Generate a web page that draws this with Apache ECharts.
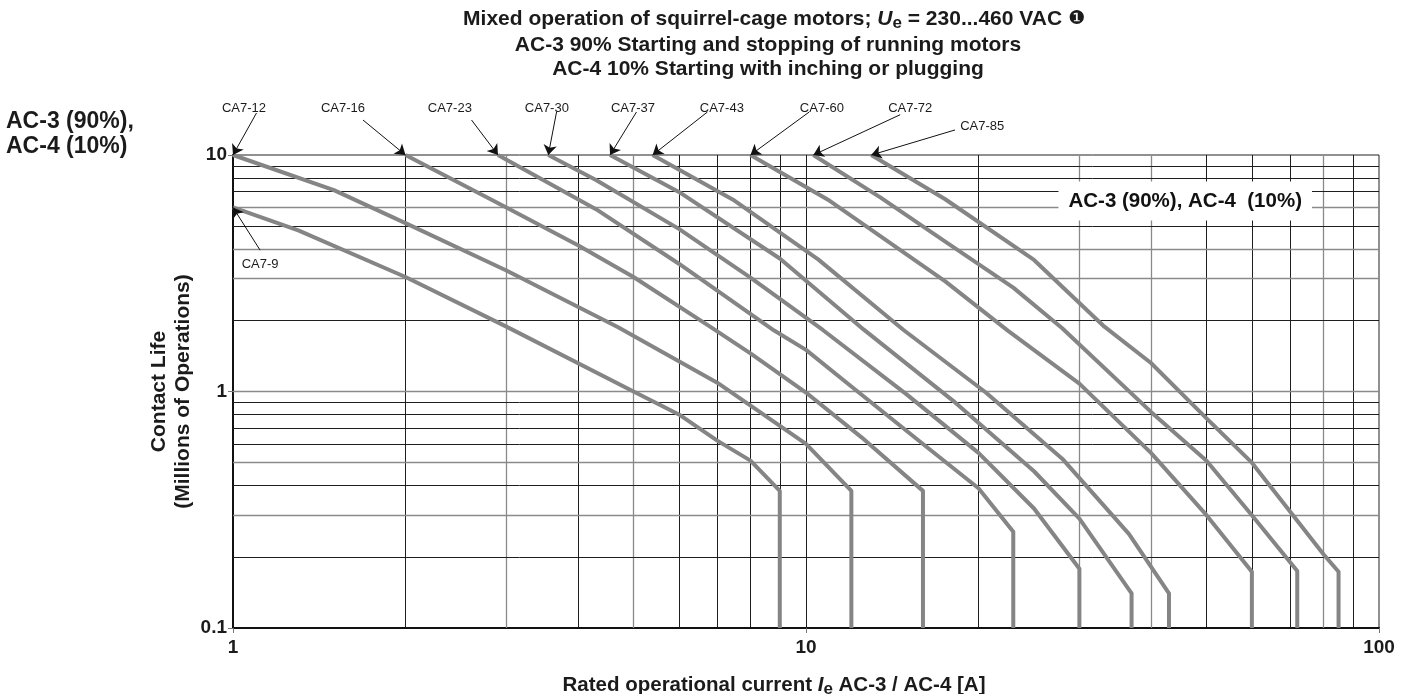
<!DOCTYPE html>
<html>
<head>
<meta charset="utf-8">
<script src="https://cdn.jsdelivr.net/npm/echarts@6/dist/echarts.min.js"></script>
<style>
  html, body { margin: 0; padding: 0; background: #fff; }
  #chart { width: 1412px; height: 694px; }
</style>
</head>
<body>
<div id="chart"></div>
<script>
// Contact life curves: [rated current A, millions of operations]
const ratings = ['CA7-9', 'CA7-12', 'CA7-16', 'CA7-23', 'CA7-30', 'CA7-37', 'CA7-43', 'CA7-60', 'CA7-72', 'CA7-85'];
const lifeCA7_9  = [[1, 6], [1.3, 4.8], [2, 3.05], [3, 1.88], [5, 1.0], [6, 0.8], [7, 0.62], [8, 0.51], [9, 0.38], [9, 0.1]];
const lifeCA7_12 = [[1, 10], [1.5, 7.1], [2, 5.15], [3, 3.25], [4.7, 1.87], [7, 1.09], [10, 0.6], [12, 0.38], [12, 0.1]];
const lifeCA7_16 = [[2, 10], [3, 6.0], [4, 4.15], [5, 3.05], [6.8, 1.88], [8, 1.45], [10, 0.99], [12.5, 0.64], [16, 0.38], [16, 0.1]];
const lifeCA7_23 = [[2.9, 10], [4.3, 5.9], [6, 3.47], [8.8, 1.81], [10, 1.5], [12, 1.05], [16, 0.6], [20, 0.39], [23, 0.255], [23, 0.1]];
const lifeCA7_30 = [[3.55, 10], [4.3, 7.84], [6, 4.87], [8, 3.03], [10.7, 1.82], [15, 0.97], [20, 0.55], [25, 0.32], [30, 0.178], [30, 0.1]];
const lifeCA7_37 = [[4.55, 10], [6, 6.98], [9, 3.65], [12.6, 1.83], [18, 0.92], [25, 0.46], [30, 0.29], [37, 0.14], [37, 0.1]];
const lifeCA7_43 = [[5.4, 10], [7.5, 6.42], [10.5, 3.62], [14.8, 1.82], [20.6, 0.99], [28, 0.52], [36.6, 0.25], [43, 0.14], [43, 0.1]];
const lifeCA7_60 = [[8, 10], [11, 6.4], [17.5, 2.92], [22.5, 1.81], [30, 1.08], [40, 0.55], [50, 0.3], [60, 0.173], [60, 0.1]];
const lifeCA7_72 = [[10.3, 10], [13.5, 6.6], [17.5, 4.3], [23, 2.75], [28, 1.85], [40, 0.82], [50, 0.51], [60, 0.3], [72, 0.174], [72, 0.1]];
const lifeCA7_85 = [[13, 10], [17.5, 6.5], [25, 3.6], [33, 1.9], [40, 1.32], [50, 0.77], [60, 0.5], [70, 0.31], [80, 0.205], [85, 0.173], [85, 0.1]];
const lifeCurves = [lifeCA7_9, lifeCA7_12, lifeCA7_16, lifeCA7_23, lifeCA7_30, lifeCA7_37, lifeCA7_43, lifeCA7_60, lifeCA7_72, lifeCA7_85];

// Axis ranges and grid divisions
const xRange = [1, 100];
const yRange = [0.1, 10];
const xGridDark = [2, 4, 6, 7, 8, 9, 10, 20, 50, 60, 70, 90];
const xGridLight = [3, 5, 30, 40, 80];
const yGridDark = [0.2, 0.4, 0.6, 0.7, 0.8, 0.9, 2, 5, 7, 8, 9];
const yGridLight = [0.3, 0.5, 1, 3, 4, 6];

// Type labels: text anchor, arrow tail and arrow tip (data space)
const labelAnchors = [[1.115, 3.43], [1.045, 15.8], [1.556, 15.8], [2.39, 15.8], [3.53, 15.8], [4.99, 15.8], [7.13, 15.8], [10.66, 15.8], [15.2, 15.8], [20.3, 13.26]];
const arrowTails   = [[1.115, 3.96], [1.099, 15.05], [1.686, 14.06], [2.608, 14.06], [3.67, 15.2], [5.06, 15.2], [6.73, 15.2], [10.13, 15.2], [14.6, 14.8], [18.2, 12.76]];
const arrowTips    = [[1, 6], [1, 10], [2, 10], [2.9, 10], [3.55, 10], [4.55, 10], [5.4, 10], [8, 10], [10.3, 10], [13, 10]];
const dutyLabel = 'AC-3 (90%), AC-4  (10%)';
const dutyLabelAt = [45.9, 6.39];

const FONT = '"Liberation Sans", Arial, Helvetica, sans-serif';
const INK = '#1b1b1b';
const CURVE = '#858585';

const chart = echarts.init(document.getElementById('chart'));

const gridLines = [];
xGridDark.forEach(v => gridLines.push({ xAxis: v, lineStyle: { color: '#1e1e1e', width: 1, type: 'solid' } }));
xGridLight.forEach(v => gridLines.push({ xAxis: v, lineStyle: { color: '#8a8a8a', width: 1.3, type: 'solid' } }));
yGridDark.forEach(v => gridLines.push({ yAxis: v, lineStyle: { color: '#1e1e1e', width: 1, type: 'solid' } }));
yGridLight.forEach(v => gridLines.push({ yAxis: v, lineStyle: { color: '#8a8a8a', width: 1.3, type: 'solid' } }));

const series = [];
series.push({
  type: 'line',
  name: 'grid',
  data: [[1, 1]],
  showSymbol: false,
  lineStyle: { opacity: 0 },
  silent: true,
  z: 1,
  markLine: {
    silent: true,
    symbol: ['none', 'none'],
    label: { show: false },
    lineStyle: { type: 'solid' },
    emphasis: { disabled: true },
    animation: false,
    data: gridLines
  }
});

ratings.forEach((name, i) => {
  series.push({
    type: 'line',
    name: name,
    data: lifeCurves[i],
    showSymbol: false,
    clip: false,
    z: 5,
    lineStyle: { color: CURVE, width: 4, cap: 'butt', join: 'round' },
    emphasis: { disabled: true }
  });
});

series.push({
  type: 'lines',
  coordinateSystem: 'cartesian2d',
  clip: false,
  z: 6,
  silent: true,
  symbol: ['none', 'arrow'],
  symbolSize: 10,
  lineStyle: { color: '#111', width: 1, opacity: 1 },
  data: ratings.map((name, i) => ({ coords: [arrowTails[i], arrowTips[i]] }))
});

series.push({
  type: 'scatter',
  clip: false,
  z: 7,
  silent: true,
  symbolSize: 0,
  itemStyle: { opacity: 1 },
  data: ratings.map((name, i) => ({ name: name, value: labelAnchors[i] })),
  label: {
    show: true, position: 'inside', formatter: '{b}',
    color: '#1b1b1b', opacity: 1, fontFamily: FONT, fontSize: 13
  }
});

series.push({
  type: 'scatter',
  clip: false,
  z: 8,
  silent: true,
  symbolSize: 0,
  itemStyle: { opacity: 1 },
  data: [{ name: dutyLabel, value: dutyLabelAt }],
  label: {
    show: true, position: 'inside', formatter: '{b}',
    color: '#111', opacity: 1, fontFamily: FONT, fontSize: 20.5, fontWeight: 'bold',
    backgroundColor: '#fff', padding: [9, 10, 9, 10]
  }
});

const boldText = { fontFamily: FONT, fontWeight: 'bold', fill: INK, fontSize: 21, lineHeight: 24, align: 'center', verticalAlign: 'top' };

chart.setOption({
  animation: false,
  grid: {
    left: 233, right: 33, top: 155, bottom: 66,
    outerBoundsMode: 'none', containLabel: false,
    show: true, borderColor: '#222', borderWidth: 1, backgroundColor: '#fff'
  },
  xAxis: {
    type: 'log', logBase: 10, min: xRange[0], max: xRange[1],
    axisLine: { show: true, lineStyle: { color: '#111', width: 2 } },
    axisTick: { show: true, length: 5, lineStyle: { color: '#777' } },
    splitLine: { show: false },
    axisLabel: { color: INK, fontFamily: FONT, fontWeight: 'bold', fontSize: 19, margin: 10 },
    name: '{t|Rated operational current }{i|I}{s|e}{t| AC-3 / AC-4 [A]}',
    nameLocation: 'middle', nameGap: 45,
    nameTextStyle: {
      padding: [0, 64, 0, 0],
      rich: {
        t: { fontFamily: FONT, fontWeight: 'bold', fontSize: 20.5, color: INK, lineHeight: 24 },
        i: { fontFamily: FONT, fontWeight: 'bold', fontStyle: 'italic', fontSize: 20.5, color: INK, lineHeight: 24 },
        s: { fontFamily: FONT, fontWeight: 'bold', fontSize: 17, color: INK, lineHeight: 24, padding: [9, 0, 0, 0] }
      }
    }
  },
  yAxis: {
    type: 'log', logBase: 10, min: yRange[0], max: yRange[1],
    axisLine: { show: true, lineStyle: { color: '#111', width: 2 } },
    axisTick: { show: true, length: 5, lineStyle: { color: '#777' } },
    splitLine: { show: false },
    axisLabel: { color: INK, fontFamily: FONT, fontWeight: 'bold', fontSize: 19, margin: 6 },
    name: 'Contact Life\n(Millions of Operations)',
    nameLocation: 'middle', nameRotate: 90, nameGap: 38, nameMoveOverlap: false,
    nameTextStyle: { color: INK, fontFamily: FONT, fontWeight: 'bold', fontSize: 21, lineHeight: 24 }
  },
  graphic: [
    {
      type: 'text', x: 774, y: 7, silent: true,
      style: {
        align: 'center', verticalAlign: 'top',
        text: '{t|Mixed operation of squirrel-cage motors; }{i|U}{s|e}{t| = 230...460 VAC }{c|❶}',
        rich: {
          t: { fontFamily: FONT, fontWeight: 'bold', fontSize: 21, fill: INK, lineHeight: 24 },
          i: { fontFamily: FONT, fontWeight: 'bold', fontStyle: 'italic', fontSize: 21, fill: INK, lineHeight: 24 },
          s: { fontFamily: FONT, fontWeight: 'bold', fontSize: 17, fill: INK, lineHeight: 24, padding: [9, 0, 0, 0] },
          c: { fontFamily: '"DejaVu Sans", sans-serif', fontSize: 19, fill: INK, lineHeight: 24 }
        }
      }
    },
    {
      type: 'text', x: 768, y: 33, silent: true,
      style: Object.assign({ text: 'AC-3 90% Starting and stopping of running motors' }, boldText)
    },
    {
      type: 'text', x: 768, y: 57, silent: true,
      style: Object.assign({ text: 'AC-4 10% Starting with inching or plugging' }, boldText)
    },
    {
      type: 'text', x: 6, y: 109, silent: true,
      style: { text: 'AC-3 (90%),\nAC-4 (10%)', fontFamily: FONT, fontWeight: 'bold', fill: INK, fontSize: 23, lineHeight: 25, align: 'left', verticalAlign: 'top' }
    }
  ],
  series: series
});
</script>
</body>
</html>
